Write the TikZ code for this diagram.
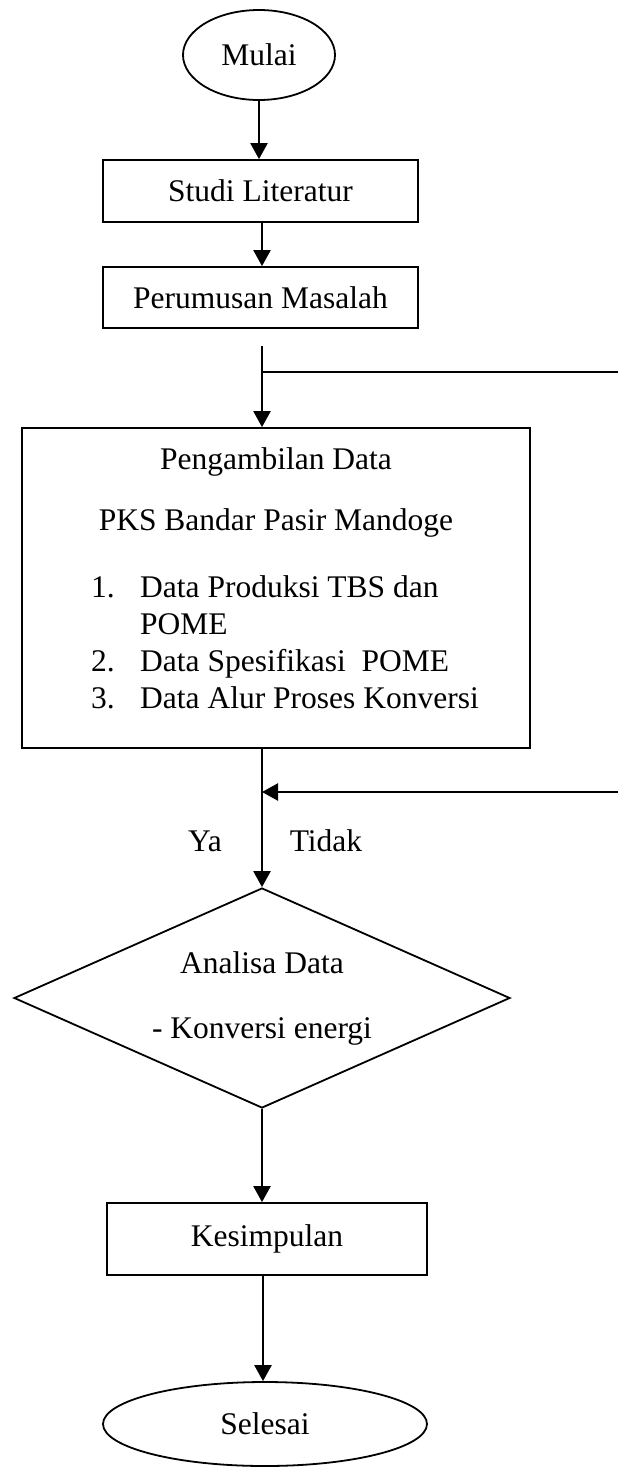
\documentclass[tikz,border=0pt]{standalone}
\usepackage{fontspec}
\setmainfont{Liberation Serif}
\usetikzlibrary{shapes.geometric,arrows.meta}
\tikzset{
  every node/.style={font=\fontsize{31.5}{38}\selectfont},
  box/.style={draw, line width=1.8pt, rectangle, inner sep=0pt},
  oval/.style={draw, line width=1.8pt, ellipse, inner sep=0pt},
  dec/.style={draw, line width=1.8pt, diamond, aspect=2.25, inner sep=0pt, align=center},
  txt/.style={inner sep=0pt, anchor=base west},
  flow/.style={line width=2.4pt, -{Triangle[width=17pt,length=16pt]}},
  plain/.style={line width=2.4pt}
}
\begin{document}
\begin{tikzpicture}[x=1pt,y=-1pt]
\useasboundingbox (0,0) rectangle (618,1473);
\node[oval, minimum width=152pt, minimum height=90pt] (mulai) at (259,55) {Mulai};
\node[box, minimum width=315pt, minimum height=62pt] (studi) at (260.5,191) {Studi Literatur};
\node[box, minimum width=315pt, minimum height=61pt] (rumus) at (260.5,297.5) {Perumusan Masalah};
\node[box, minimum width=508pt, minimum height=320pt] (data) at (276,588) {};
\node[inner sep=0pt] (t1) at (276,462) {Pengambilan Data};
\node[inner sep=0pt] (t2) at (276,523) {PKS Bandar Pasir Mandoge};
\node[txt] (n1) at (91,597) {1.};
\node[txt] (l1) at (140,597) {Data Produksi TBS dan};
\node[txt] (l1b) at (140,634) {POME};
\node[txt] (n2) at (91,671) {2.};
\node[txt] (l2) at (140,671) {Data Spesifikasi\ \ POME};
\node[txt] (n3) at (91,708) {3.};
\node[txt] (l3) at (140,708) {Data Alur Proses Konversi};
\node[dec, minimum width=496pt, minimum height=220pt] (analisa) at (262,998) {Analisa Data\\[27pt]- Konversi energi};
\node[box, minimum width=320pt, minimum height=72pt] (simpul) at (267,1239) {Kesimpulan};
\node[oval, minimum width=324pt, minimum height=84pt] (selesai) at (265,1424) {Selesai};
\node[inner sep=0pt] (ya) at (205,841) {Ya};
\node[inner sep=0pt] (tidak) at (326,841) {Tidak};
\coordinate (a0) at (262,346);
\coordinate (a1) at (262,372);
\coordinate (r1) at (618,372);
\coordinate (b1) at (262,792);
\coordinate (r2) at (618,792);
\draw[flow] (mulai.south) -- (studi.north -| mulai.south);
\draw[flow] (studi.south -| 262,0) -- (rumus.north -| 262,0);
\draw[flow] (a0) -- (data.north -| a0);
\draw[plain] (a1) -- (r1);
\draw[flow] (data.south -| analisa.north) -- (analisa.north);
\draw[flow] (r2) -- (b1);
\draw[flow] (analisa.south) -- (simpul.north -| analisa.south);
\draw[flow] (simpul.south -| 263,0) -- (selesai.north -| 263,0);
\end{tikzpicture}
\end{document}
